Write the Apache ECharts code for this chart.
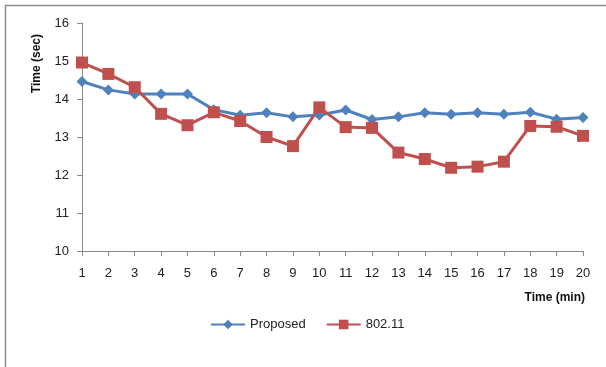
<!DOCTYPE html>
<html>
<head>
<meta charset="utf-8">
<script src="https://cdn.jsdelivr.net/npm/echarts@6/dist/echarts.min.js"></script>
<style>
  html, body { margin: 0; padding: 0; background: #fff; }
  #chart { width: 606px; height: 367px; }
</style>
</head>
<body>
<div id="chart"></div>
<script>
// x axis categories (minutes)
const minutes = ['1','2','3','4','5','6','7','8','9','10','11','12','13','14','15','16','17','18','19','20'];
// values
const proposed = [14.46, 14.24, 14.13, 14.13, 14.13, 13.72, 13.57, 13.64, 13.53, 13.58, 13.71, 13.46, 13.53, 13.64, 13.6, 13.64, 13.6, 13.65, 13.47, 13.51];
const wifi = [14.96, 14.66, 14.31, 13.61, 13.31, 13.65, 13.42, 13.0, 12.76, 13.78, 13.26, 13.24, 12.59, 12.42, 12.19, 12.22, 12.35, 13.29, 13.27, 13.03];
const seriesNames = ['Proposed', '802.11'];

const font = 'Liberation Sans';
let myChart = echarts.init(document.getElementById('chart'));
myChart.setOption({
  animation: false,
  textStyle: { fontFamily: font },
  grid: { left: 82, right: 23, top: 23, bottom: 116 },
  legend: {
    left: 205,
    top: 313,
    itemWidth: 34,
    itemHeight: 12,
    itemGap: 20,
    textStyle: { fontSize: 13, color: '#222', fontFamily: font },
    data: seriesNames
  },
  xAxis: {
    type: 'category',
    boundaryGap: false,
    data: minutes,
    axisLine: { lineStyle: { color: '#888', width: 1 } },
    axisTick: { show: true, length: 5, alignWithLabel: true, lineStyle: { color: '#888' } },
    axisLabel: { color: '#222', fontSize: 13, margin: 16 },
    splitLine: { show: false }
  },
  yAxis: {
    type: 'value',
    min: 10,
    max: 16,
    interval: 1,
    axisLine: { show: true, lineStyle: { color: '#888', width: 1 } },
    axisTick: { show: true, length: 5, lineStyle: { color: '#888' } },
    axisLabel: { color: '#222', fontSize: 13, margin: 13 },
    splitLine: { show: false }
  },
  graphic: [
    { // 外框 (只有上边和左边可见)
      type: 'polyline', silent: true,
      shape: { points: [[5.5, 367], [5.5, 5.5], [606, 5.5]] },
      style: { fill: 'none', stroke: '#8a8a8a', lineWidth: 1.5 }
    },
    {
      type: 'text', left: 31, top: 34, rotation: Math.PI / 2,
      style: { text: 'Time (sec)', font: 'bold 12px ' + font, fill: '#111' }
    },
    {
      type: 'text', right: 21, top: 292,
      style: { text: 'Time (min)', font: 'bold 12px ' + font, fill: '#111' }
    }
  ],
  series: [
    {
      name: seriesNames[0],
      type: 'line',
      data: proposed,
      symbol: 'diamond',
      symbolSize: 11,
      lineStyle: { width: 3, color: '#4F81BD' },
      itemStyle: { color: '#4F81BD' }
    },
    {
      name: seriesNames[1],
      type: 'line',
      data: wifi,
      symbol: 'rect',
      symbolSize: 12,
      lineStyle: { width: 3, color: '#C0504D' },
      itemStyle: { color: '#C0504D' }
    }
  ]
});
</script>
</body>
</html>
